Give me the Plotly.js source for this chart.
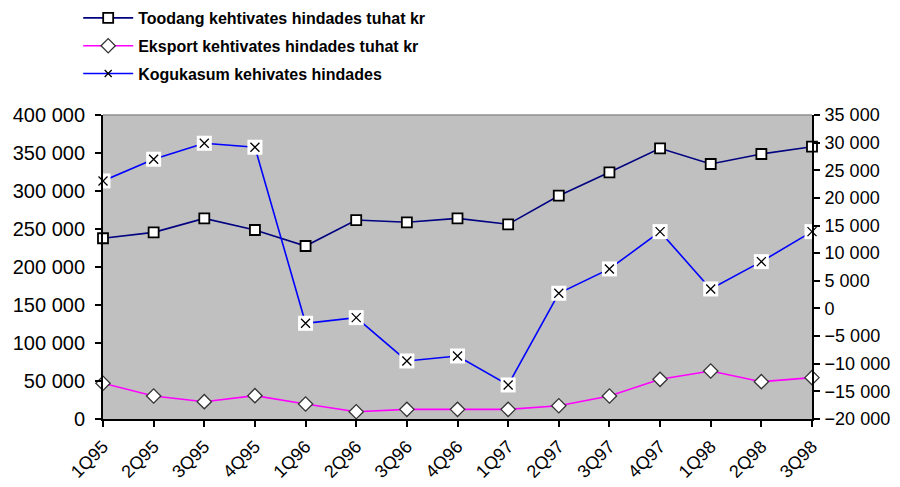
<!DOCTYPE html>
<html>
<head>
<meta charset="utf-8">
<script src="https://cdn.plot.ly/plotly-3.0.1.min.js"></script>
<style>
  html, body { margin: 0; padding: 0; background: #fff; }
  #chart { width: 900px; height: 487px; }
</style>
</head>
<body>
<div id="chart"></div>
<script>
// ── Data ─────────────────────────────────────────────────────────────────────
const QUARTERS = ['1Q95', '2Q95', '3Q95', '4Q95', '1Q96', '2Q96', '3Q96', '4Q96',
                  '1Q97', '2Q97', '3Q97', '4Q97', '1Q98', '2Q98', '3Q98'];

// left axis (tuhat kr)
const TOODANG = [237800, 245600, 264000, 248700, 227600, 261800, 258800, 264000,
                 256200, 293800, 324600, 356200, 335500, 348700, 358300];
const EKSPORT = [47000, 30300, 22800, 30700, 19700, 9600, 12700, 12700,
                 12700, 17500, 30300, 52200, 63200, 49100, 54400];

// right axis
const KOGUKASUM = [23070, 27000, 29890, 29170, -2680, -1660, -9500, -8600,
                   -13840, 2750, 7150, 13900, 3530, 8470, 13900];

const NAMES = ['Toodang kehtivates hindades tuhat kr',
               'Eksport kehtivates hindades tuhat kr',
               'Kogukasum kehivates hindades'];

// ── Styling ──────────────────────────────────────────────────────────────────
const FONT = 'Liberation Sans, Arial, sans-serif';
const AXIS_BASE = {
  showgrid: false, zeroline: false,
  showline: true, linecolor: '#000', linewidth: 2,
  ticks: 'outside', ticklen: 6, tickwidth: 2, tickcolor: '#000',
  ticklabelstandoff: 6,
  tickfont: { family: FONT, size: 20, color: '#000' },
};

const traces = [
  { x: QUARTERS, y: TOODANG, name: NAMES[0], legendgroup: 'a',
    type: 'scatter', mode: 'lines+markers', cliponaxis: false,
    line: { color: '#000080', width: 1.6 },
    marker: { symbol: 'square', size: 10, color: '#fff',
              line: { color: '#000', width: 1.8 } } },
  { x: QUARTERS, y: EKSPORT, name: NAMES[1], legendgroup: 'b',
    type: 'scatter', mode: 'lines+markers', cliponaxis: false,
    line: { color: '#ff00ff', width: 1.6 },
    marker: { symbol: 'diamond', size: 11, color: '#fff',
              line: { color: '#333', width: 1.3 } } },
  { x: QUARTERS, y: KOGUKASUM, name: NAMES[2], legendgroup: 'c', yaxis: 'y2',
    type: 'scatter', mode: 'lines+markers', cliponaxis: false,
    line: { color: '#0000ff', width: 1.6 },
    marker: { symbol: 'x-thin-open', size: 7, color: '#000',
              line: { color: '#000', width: 1.3 } } },
  // white box behind each x marker, then the x again on top
  { x: QUARTERS, y: KOGUKASUM, yaxis: 'y2', showlegend: false, hoverinfo: 'skip',
    type: 'scatter', mode: 'markers', cliponaxis: false,
    marker: { symbol: 'square', size: 15, color: '#fff', line: { width: 0 } } },
  { x: QUARTERS, y: KOGUKASUM, yaxis: 'y2', showlegend: false, hoverinfo: 'skip',
    type: 'scatter', mode: 'markers', cliponaxis: false,
    marker: { symbol: 'x-thin-open', size: 9, color: '#000',
              line: { color: '#000', width: 1.3 } } },
];

const layout = {
  width: 900, height: 487,
  paper_bgcolor: '#fff',
  plot_bgcolor: '#c0c0c0',
  separators: ', ',
  margin: { l: 103, r: 88, t: 115, b: 68, autoexpand: false },
  showlegend: true,
  legend: {
    x: -0.035, y: 1.375, xanchor: 'left', yanchor: 'top',
    bgcolor: 'rgba(0,0,0,0)', tracegroupgap: 4, itemwidth: 50,
    font: { family: FONT, size: 16, color: '#000', weight: 600 },
  },
  xaxis: Object.assign({}, AXIS_BASE, {
    type: 'category', range: [0, 14],
    tickangle: -45, ticklabelstandoff: 2,
    tickfont: { family: FONT, size: 18, color: '#000' },
  }),
  yaxis: Object.assign({}, AXIS_BASE, {
    range: [0, 400000], dtick: 50000, tickformat: ',d',
  }),
  yaxis2: Object.assign({}, AXIS_BASE, {
    overlaying: 'y', side: 'right',
    range: [-20000, 35000], dtick: 5000, tickformat: ',d',
    ticklabelstandoff: 1,
    tickfont: { family: FONT, size: 18, color: '#000' },
  }),
  shapes: [
    { type: 'line', xref: 'paper', yref: 'paper', x0: 0, x1: 1, y0: 1, y1: 1,
      line: { color: '#909090', width: 1.5 } },
  ],
};

Plotly.newPlot('chart', traces, layout, { displayModeBar: false, staticPlot: true });
</script>
</body>
</html>
